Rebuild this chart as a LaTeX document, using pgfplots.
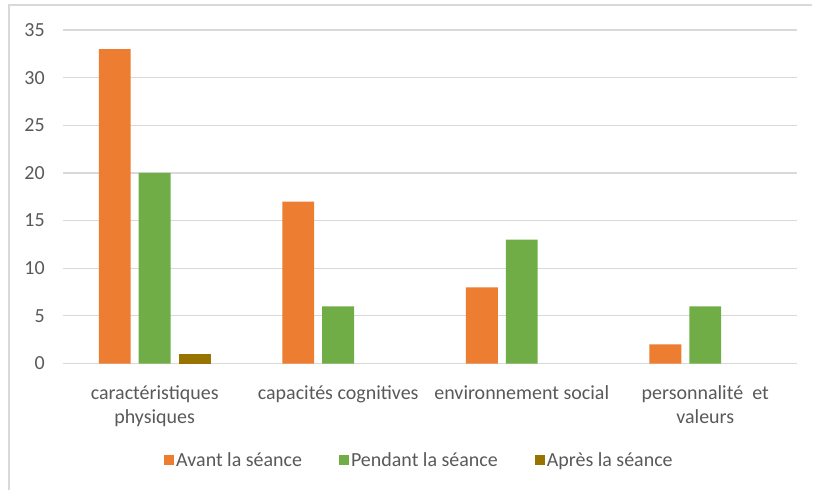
\documentclass[border=0pt]{standalone}
\usepackage{fontspec}
\setmainfont{Carlito}
\usepackage{pgfplots}
\pgfplotsset{compat=1.18}
\definecolor{avant}{HTML}{ED7D31}
\definecolor{pendant}{HTML}{70AD47}
\definecolor{apres}{HTML}{997300}
\definecolor{gridgray}{HTML}{D9D9D9}
\definecolor{txtgray}{HTML}{595959}
\begin{document}
\begin{tikzpicture}[x=1pt,y=1pt]
  % page frame
  \path (0,0) rectangle (813,491);
  \draw[gridgray, line width=2pt] (9,0) -- (9,486) -- (813,486);
  \begin{axis}[
    at={(63pt,127pt)}, anchor=south west,
    scale only axis, width=735pt, height=334pt,
    xmin=-0.5, xmax=3.5, ymin=0, ymax=35,
    ytick={0,5,...,35},
    xtick={0,1,2,3},
    xticklabels={{caractéristiques\\physiques},{capacités cognitives},{environnement social},{personnalité~~et\\valeurs}},
    axis line style={draw=none},
    major tick length=0pt,
    ymajorgrids,
    major grid style={gridgray, line width=1.2pt},
    /pgf/number format/assume math mode=true,
    tick label style={font=\fontsize{20}{24}\selectfont, text=txtgray},
    yticklabel style={anchor=east, inner sep=0pt, xshift=-18pt},
    xticklabel style={anchor=north, inner sep=0pt, yshift=-22pt, align=center},
    ybar=8pt, bar width=32pt,
    legend columns=3,
    legend style={at={(axis description cs:0.4857,-0.2904)}, anchor=center, draw=none, fill=none,
      font=\fontsize{20}{24}\selectfont, text=txtgray,
      /tikz/every even column/.append style={column sep=35pt}},
    legend cell align=left,
    legend image code/.code={\fill[#1] (-3pt,-5pt) rectangle (7pt,5pt);},
  ]
    \addplot[fill=avant, draw=none] coordinates {(0,33) (1,17) (2,8) (3,2)};
    \addplot[fill=pendant, draw=none] coordinates {(0,20) (1,6) (2,13) (3,6)};
    \addplot[fill=apres, draw=none] coordinates {(0,1)};
    \legend{Avant la séance, Pendant la séance, Après la séance}
  \end{axis}
\end{tikzpicture}
\end{document}
